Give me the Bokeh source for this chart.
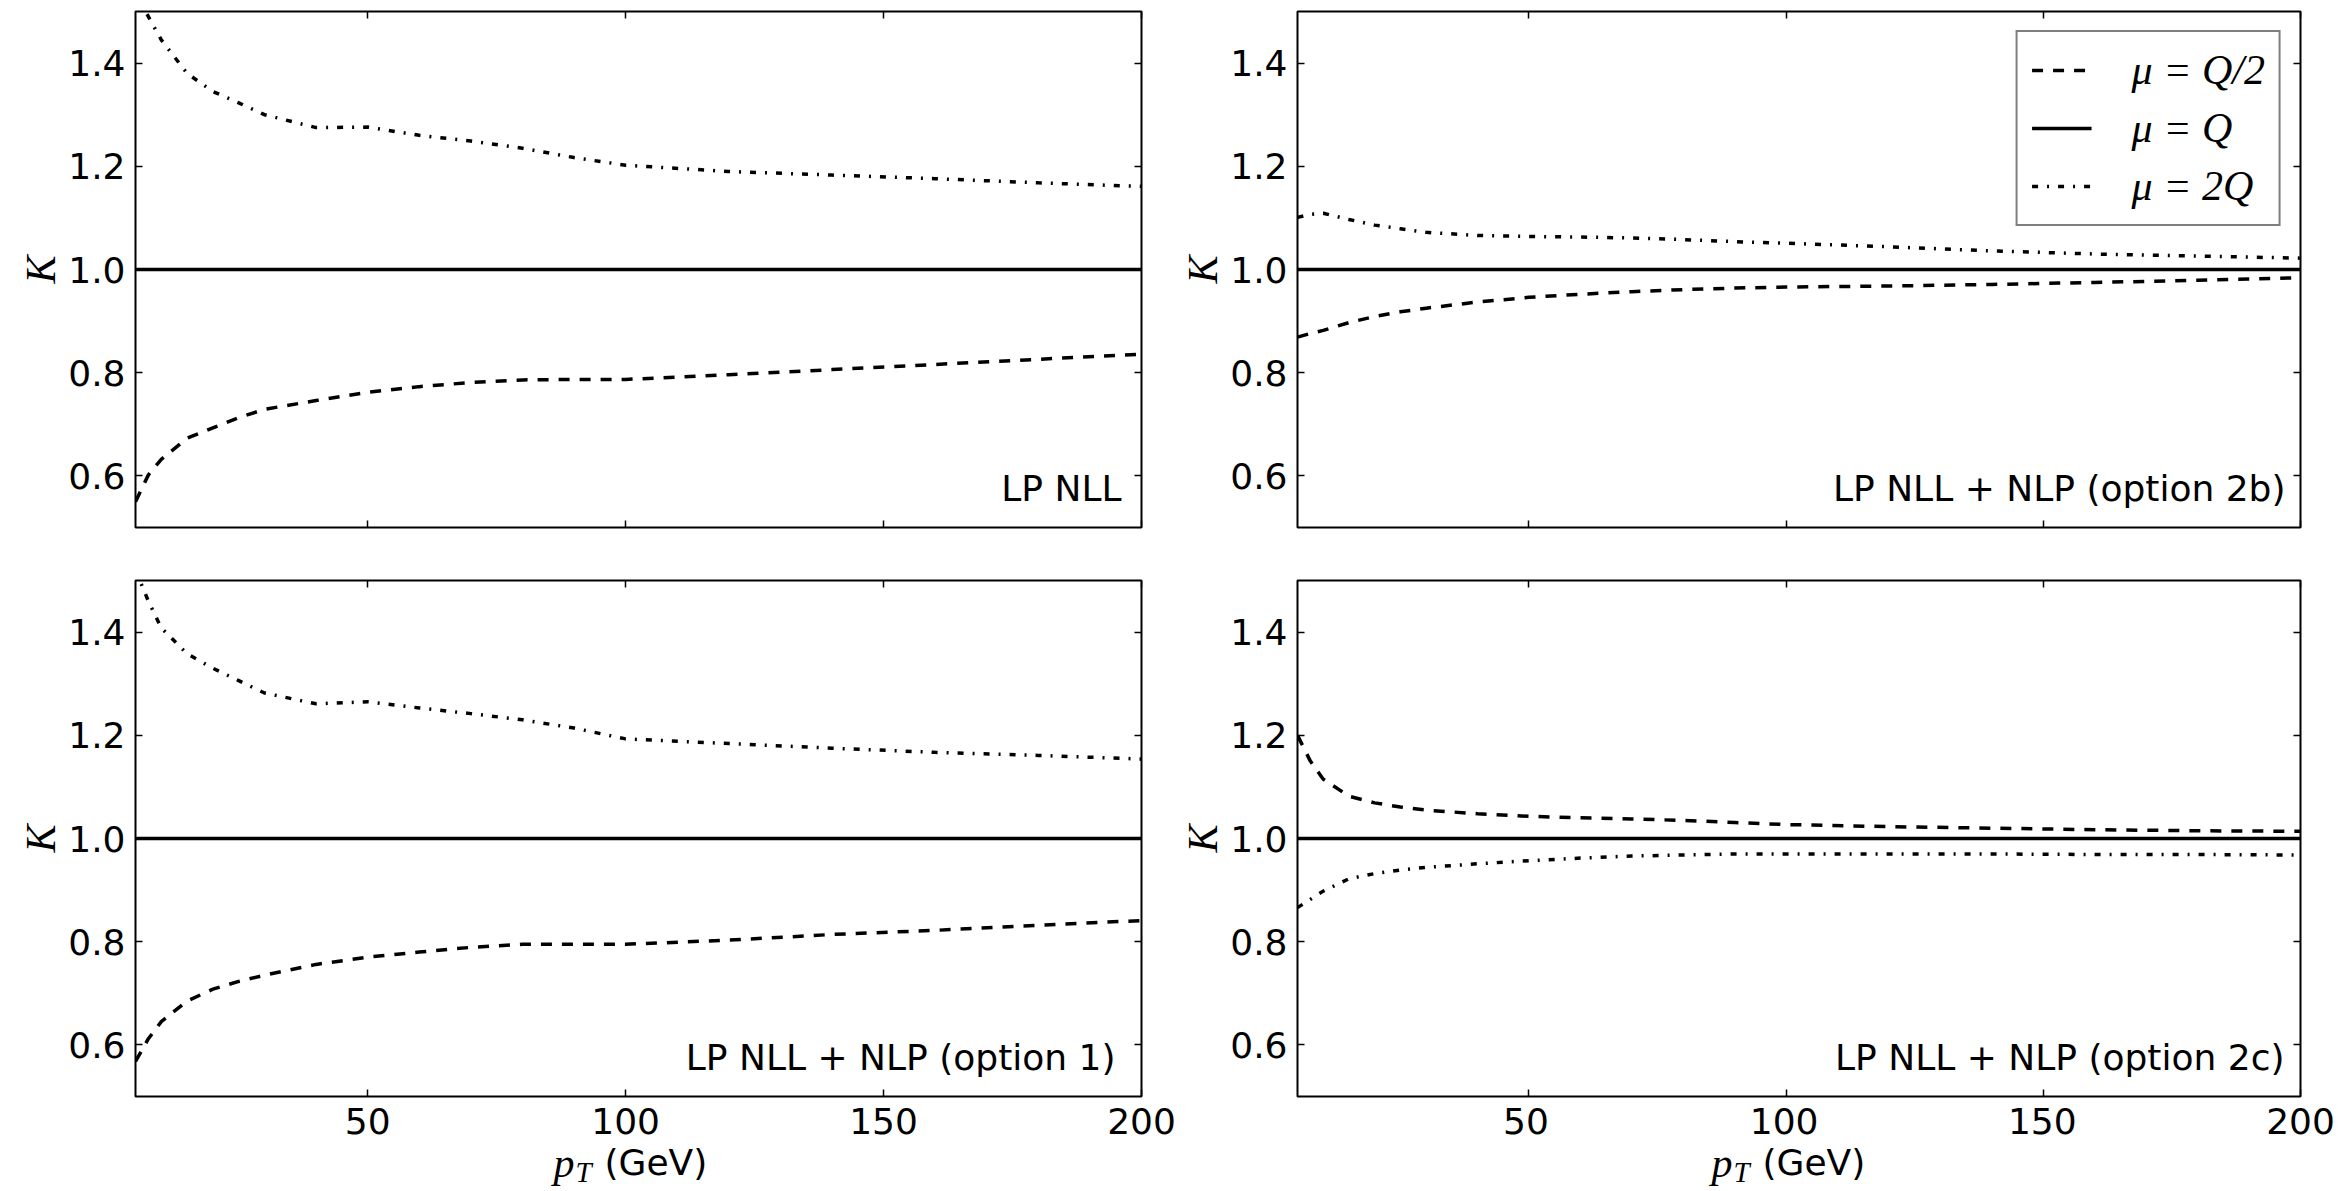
from bokeh.plotting import figure
from bokeh.models import (FixedTicker, LinearAxis, Label, Legend, LegendItem, Range1d,
                          PrintfTickFormatter)
from bokeh.core.properties import value
from bokeh.layouts import column, row
from bokeh.embed import file_html
from bokeh.resources import INLINE

# ---------------- data ----------------
pt = [5, 7.5, 10, 15, 20, 25, 30, 40, 50, 60, 70, 80, 90, 100, 120, 140, 160, 180, 200]

# LP NLL
lp_half = [0.550, 0.602, 0.632, 0.673, 0.693, 0.713, 0.729, 0.746, 0.762, 0.773,
           0.781, 0.786, 0.787, 0.787, 0.796, 0.806, 0.816, 0.826, 0.836]
lp_one = [1.0] * len(pt)
lp_two = [1.540, 1.490, 1.445, 1.380, 1.345, 1.323, 1.300, 1.275, 1.276, 1.260,
          1.249, 1.235, 1.217, 1.202, 1.190, 1.183, 1.176, 1.168, 1.161]

# LP NLL + NLP (option 2b)
o2b_half = [0.869, 0.876, 0.882, 0.897, 0.909, 0.918, 0.925, 0.937, 0.946, 0.952,
            0.957, 0.961, 0.964, 0.966, 0.968, 0.971, 0.975, 0.979, 0.984]
o2b_one = [1.0] * len(pt)
o2b_two = [1.101, 1.107, 1.109, 1.097, 1.086, 1.079, 1.072, 1.066, 1.064, 1.063,
           1.061, 1.058, 1.054, 1.051, 1.044, 1.036, 1.030, 1.026, 1.022]

# LP NLL + NLP (option 1)
o1_half = [0.568, 0.612, 0.645, 0.685, 0.708, 0.723, 0.735, 0.756, 0.770, 0.780,
           0.789, 0.795, 0.795, 0.795, 0.803, 0.814, 0.822, 0.832, 0.841]
o1_one = [1.0] * len(pt)
o1_two = [1.520, 1.460, 1.408, 1.358, 1.330, 1.306, 1.282, 1.261, 1.265, 1.253,
          1.242, 1.230, 1.214, 1.193, 1.184, 1.175, 1.167, 1.161, 1.154]

# LP NLL + NLP (option 2c)
o2c_half = [1.200, 1.150, 1.115, 1.082, 1.069, 1.061, 1.055, 1.048, 1.043, 1.040,
            1.038, 1.035, 1.031, 1.027, 1.023, 1.020, 1.017, 1.015, 1.014]
o2c_one = [1.0] * len(pt)
o2c_two = [0.866, 0.882, 0.898, 0.922, 0.932, 0.939, 0.944, 0.951, 0.957, 0.962,
           0.966, 0.968, 0.970, 0.970, 0.970, 0.970, 0.969, 0.969, 0.968]

x_ticks = [50, 100, 150, 200]
x_tick_labels = ["50", "100", "150", "200"]
y_ticks = [0.6, 0.8, 1.0, 1.2, 1.4]
legend_labels = ["μ = Q/2", "μ = Q", "μ = 2Q"]
panel_titles = ["LP NLL", "LP NLL + NLP (option 2b)",
                "LP NLL + NLP (option 1)", "LP NLL + NLP (option 2c)"]
X_MIN, X_MAX = 5, 200
Y_MIN, Y_MAX = 0.5, 1.5

SANS = "DejaVu Sans"
SERIF = "Liberation Serif"
LW = 3.5

# column / row geometry (page pixels)
LEFT_W, RIGHT_W = 1177, 1161
LEFT_B = (135, 36)      # left/right borders, left column
RIGHT_B = (116, 38)     # left/right borders, right column
TOP_H, BOT_H = 553, 547
STRIP_H = 1191 - TOP_H - BOT_H


def style_axis(ax, ticks, show_labels):
    ax.ticker = FixedTicker(ticks=ticks)
    ax.axis_line_color = None
    ax.major_tick_in = 7
    ax.major_tick_out = 0
    ax.major_tick_line_color = "black"
    ax.major_tick_line_width = 1.5
    ax.minor_tick_line_color = None
    ax.major_label_text_font = SANS
    ax.major_label_text_color = "black"
    if show_labels:
        ax.major_label_text_font_size = "36px"
    else:
        ax.major_label_text_font_size = "0px"
        ax.major_label_standoff = 0
        ax.major_label_overrides = {t: "" for t in ticks}


def make_panel(half, one, two, title, title_dx, width, height, mb, legend=False):
    p = figure(width=width, height=height, title=None,
               x_range=Range1d(X_MIN, X_MAX), y_range=Range1d(Y_MIN, Y_MAX),
               output_backend="svg", toolbar_location=None,
               min_border_left=mb[0], min_border_right=mb[1],
               min_border_top=mb[2], min_border_bottom=mb[3])
    p.background_fill_color = "white"
    p.border_fill_color = "white"
    p.outline_line_color = "black"
    p.outline_line_width = 2
    p.xgrid.visible = False
    p.ygrid.visible = False

    style_axis(p.xaxis[0], x_ticks, False)
    style_axis(p.yaxis[0], y_ticks, True)
    p.yaxis[0].major_label_standoff = 10
    p.yaxis[0].formatter = PrintfTickFormatter(format="%.1f")
    p.yaxis[0].axis_label = "K"
    p.yaxis[0].axis_label_text_font = SERIF
    p.yaxis[0].axis_label_text_font_style = "italic"
    p.yaxis[0].axis_label_text_font_size = "42px"
    p.yaxis[0].axis_label_text_color = "black"
    p.yaxis[0].axis_label_standoff = 1

    top = LinearAxis()
    style_axis(top, x_ticks, False)
    p.add_layout(top, "above")
    right = LinearAxis()
    style_axis(right, y_ticks, False)
    p.add_layout(right, "right")

    r_half = p.line(pt, half, line_color="black", line_width=LW, line_dash="11 10")
    r_one = p.line(pt, one, line_color="black", line_width=LW)
    r_two = p.line(pt, two, line_color="black", line_width=LW, line_dash="6 9 2 9")

    # panel title, anchored at the bottom-right corner of the frame
    p.add_layout(Label(x=X_MAX, y=Y_MIN, x_offset=title_dx, y_offset=39, text=title,
                       text_align="right", text_baseline="alphabetic",
                       text_font=SANS, text_font_size="36px", text_color="black"))
    if legend:
        lg = Legend(items=[LegendItem(label=legend_labels[0], renderers=[r_half]),
                           LegendItem(label=legend_labels[1], renderers=[r_one]),
                           LegendItem(label=legend_labels[2], renderers=[r_two])],
                    location="top_right", margin=19, padding=14, spacing=10,
                    glyph_width=60, glyph_height=44, label_height=44,
                    label_standoff=40,
                    label_text_font=SERIF, label_text_font_style="italic",
                    label_text_font_size="42px", label_text_color="black",
                    border_line_color="black", border_line_width=2,
                    background_fill_color="white", background_fill_alpha=1.0)
        p.add_layout(lg)
    return p


def make_xlabel_strip(width, borders):
    # strip under a bottom panel: same x scale as the panel, its frame running to the
    # canvas' right edge; holds the x tick labels and the axis title  p_T (GeV)
    panel_fw = width - borders[0] - borders[1]
    strip_fw = width - borders[0]
    x_end = X_MIN + (X_MAX - X_MIN) * strip_fw / panel_fw
    s = figure(width=width, height=STRIP_H, title=None,
               x_range=Range1d(X_MIN, x_end), y_range=Range1d(0, STRIP_H),
               x_axis_type=None, y_axis_type=None,
               output_backend="svg", toolbar_location=None,
               min_border_left=borders[0], min_border_right=0,
               min_border_top=0, min_border_bottom=0)
    s.outline_line_color = None
    s.xgrid.visible = False
    s.ygrid.visible = False
    s.background_fill_color = "white"
    s.border_fill_color = "white"
    s.text(x=x_ticks, y=[71] * len(x_ticks), text=x_tick_labels,
           text_align="center", text_baseline="alphabetic",
           text_font=value(SANS), text_font_size=value("36px"), text_color="black")
    s.add_layout(Label(x=X_MIN, x_offset=418, y=29, text="p", text_align="left",
                       text_baseline="alphabetic", text_font=SERIF, text_font_style="italic",
                       text_font_size="42px", text_color="black"))
    s.add_layout(Label(x=X_MIN, x_offset=440, y=20, text="T", text_align="left",
                       text_baseline="alphabetic", text_font=SERIF, text_font_style="italic",
                       text_font_size="29px", text_color="black"))
    s.add_layout(Label(x=X_MIN, x_offset=469, y=29, text="(GeV)", text_align="left",
                       text_baseline="alphabetic", text_font=SANS,
                       text_font_size="36px", text_color="black"))
    return s


tl = make_panel(lp_half, lp_one, lp_two, panel_titles[0], -20, LEFT_W, TOP_H,
                (LEFT_B[0], LEFT_B[1], 11, 26))
tr = make_panel(o2b_half, o2b_one, o2b_two, panel_titles[1], -15, RIGHT_W, TOP_H,
                (RIGHT_B[0], RIGHT_B[1], 11, 26), legend=True)
bl = make_panel(o1_half, o1_one, o1_two, panel_titles[2], -26, LEFT_W, BOT_H,
                (LEFT_B[0], LEFT_B[1], 27, 4))
br = make_panel(o2c_half, o2c_one, o2c_two, panel_titles[3], -16, RIGHT_W, BOT_H,
                (RIGHT_B[0], RIGHT_B[1], 27, 4))
sl = make_xlabel_strip(LEFT_W, LEFT_B)
sr = make_xlabel_strip(RIGHT_W, RIGHT_B)

layout = column(row(tl, tr), row(bl, br), row(sl, sr))

open("out.html", "w").write(file_html(layout, INLINE))
